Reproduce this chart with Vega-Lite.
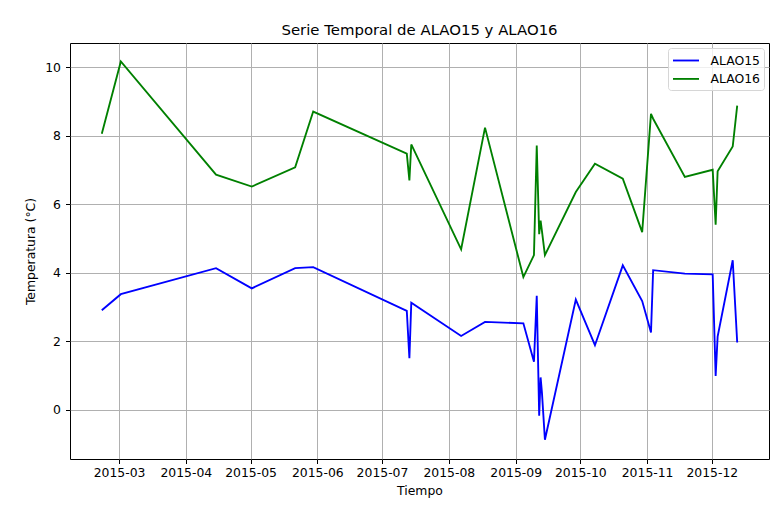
{
  "$schema": "https://vega.github.io/schema/vega-lite/v6.json",
  "autosize": {"type": "none"},
  "padding": {"left": 70, "top": 43, "right": 5, "bottom": 54},
  "width": 699,
  "height": 416,
  "background": "white",
  "title": {
    "text": "Serie Temporal de ALAO15 y ALAO16",
    "font": "DejaVu Sans",
    "fontSize": 14.9,
    "fontWeight": "normal",
    "color": "#000000",
    "anchor": "middle",
    "baseline": "alphabetic",
    "offset": 7,
    "dy": 13.7
  },
  "config": {
    "font": "DejaVu Sans",
    "view": {"stroke": "#000000", "strokeWidth": 1},
    "axis": {
      "domain": false,
      "grid": true,
      "gridColor": "#b0b0b0",
      "gridWidth": 1,
      "gridOpacity": 1,
      "ticks": true,
      "tickColor": "#000000",
      "tickWidth": 1,
      "tickSize": 4.5,
      "labelFont": "DejaVu Sans",
      "labelFontSize": 12.4,
      "labelColor": "#000000",
      "titleFont": "DejaVu Sans",
      "titleFontSize": 12.4,
      "titleFontWeight": "normal",
      "titleColor": "#000000"
    },
    "legend": {
      "labelFont": "DejaVu Sans",
      "labelFontSize": 12.4,
      "labelColor": "#000000"
    }
  },
  "data": {
    "values": [
      {"t": "2015-02-21T00:00", "serie": "ALAO15", "v": 2.91},
      {"t": "2015-03-01T20:00", "serie": "ALAO15", "v": 3.38},
      {"t": "2015-04-15T00:00", "serie": "ALAO15", "v": 4.14},
      {"t": "2015-05-01T14:00", "serie": "ALAO15", "v": 3.55},
      {"t": "2015-05-21T17:00", "serie": "ALAO15", "v": 4.14},
      {"t": "2015-05-30T02:00", "serie": "ALAO15", "v": 4.17},
      {"t": "2015-07-12T12:00", "serie": "ALAO15", "v": 2.89},
      {"t": "2015-07-13T17:00", "serie": "ALAO15", "v": 1.51},
      {"t": "2015-07-14T14:00", "serie": "ALAO15", "v": 3.13},
      {"t": "2015-08-06T17:00", "serie": "ALAO15", "v": 2.16},
      {"t": "2015-08-17T19:00", "serie": "ALAO15", "v": 2.57},
      {"t": "2015-09-04T14:00", "serie": "ALAO15", "v": 2.53},
      {"t": "2015-09-09T12:00", "serie": "ALAO15", "v": 1.41},
      {"t": "2015-09-10T19:00", "serie": "ALAO15", "v": 3.33},
      {"t": "2015-09-11T22:00", "serie": "ALAO15", "v": -0.17},
      {"t": "2015-09-12T14:00", "serie": "ALAO15", "v": 0.95},
      {"t": "2015-09-13T05:00", "serie": "ALAO15", "v": 0.5},
      {"t": "2015-09-14T14:00", "serie": "ALAO15", "v": -0.87},
      {"t": "2015-09-28T22:00", "serie": "ALAO15", "v": 3.22},
      {"t": "2015-10-07T19:00", "serie": "ALAO15", "v": 1.89},
      {"t": "2015-10-20T17:00", "serie": "ALAO15", "v": 4.22},
      {"t": "2015-10-29T17:00", "serie": "ALAO15", "v": 3.18},
      {"t": "2015-11-02T19:00", "serie": "ALAO15", "v": 2.26},
      {"t": "2015-11-03T19:00", "serie": "ALAO15", "v": 4.08},
      {"t": "2015-11-18T12:00", "serie": "ALAO15", "v": 3.98},
      {"t": "2015-12-01T10:00", "serie": "ALAO15", "v": 3.96},
      {"t": "2015-12-02T19:00", "serie": "ALAO15", "v": 0.99},
      {"t": "2015-12-03T17:00", "serie": "ALAO15", "v": 2.14},
      {"t": "2015-12-10T17:00", "serie": "ALAO15", "v": 4.37},
      {"t": "2015-12-12T19:00", "serie": "ALAO15", "v": 1.97},
      {"t": "2015-02-21T00:00", "serie": "ALAO16", "v": 8.06},
      {"t": "2015-03-01T20:00", "serie": "ALAO16", "v": 10.17},
      {"t": "2015-04-15T00:00", "serie": "ALAO16", "v": 6.87},
      {"t": "2015-05-01T14:00", "serie": "ALAO16", "v": 6.52},
      {"t": "2015-05-21T17:00", "serie": "ALAO16", "v": 7.08},
      {"t": "2015-05-30T02:00", "serie": "ALAO16", "v": 8.71},
      {"t": "2015-07-12T12:00", "serie": "ALAO16", "v": 7.48},
      {"t": "2015-07-13T17:00", "serie": "ALAO16", "v": 6.7},
      {"t": "2015-07-14T14:00", "serie": "ALAO16", "v": 7.75},
      {"t": "2015-08-06T17:00", "serie": "ALAO16", "v": 4.69},
      {"t": "2015-08-17T19:00", "serie": "ALAO16", "v": 8.24},
      {"t": "2015-09-04T14:00", "serie": "ALAO16", "v": 3.88},
      {"t": "2015-09-09T12:00", "serie": "ALAO16", "v": 4.52},
      {"t": "2015-09-10T19:00", "serie": "ALAO16", "v": 7.72},
      {"t": "2015-09-11T22:00", "serie": "ALAO16", "v": 5.13},
      {"t": "2015-09-12T14:00", "serie": "ALAO16", "v": 5.53},
      {"t": "2015-09-13T05:00", "serie": "ALAO16", "v": 5.22},
      {"t": "2015-09-14T14:00", "serie": "ALAO16", "v": 4.52},
      {"t": "2015-09-28T22:00", "serie": "ALAO16", "v": 6.36},
      {"t": "2015-10-07T19:00", "serie": "ALAO16", "v": 7.19},
      {"t": "2015-10-20T17:00", "serie": "ALAO16", "v": 6.75},
      {"t": "2015-10-29T17:00", "serie": "ALAO16", "v": 5.19},
      {"t": "2015-11-02T19:00", "serie": "ALAO16", "v": 8.64},
      {"t": "2015-11-03T19:00", "serie": "ALAO16", "v": 8.5},
      {"t": "2015-11-18T12:00", "serie": "ALAO16", "v": 6.8},
      {"t": "2015-12-01T10:00", "serie": "ALAO16", "v": 7.01},
      {"t": "2015-12-02T19:00", "serie": "ALAO16", "v": 5.41},
      {"t": "2015-12-03T17:00", "serie": "ALAO16", "v": 6.97},
      {"t": "2015-12-10T17:00", "serie": "ALAO16", "v": 7.69},
      {"t": "2015-12-12T19:00", "serie": "ALAO16", "v": 8.88}
    ]
  },
  "mark": {"type": "line", "strokeWidth": 1.86, "clip": true},
  "encoding": {
    "x": {
      "field": "t",
      "type": "temporal",
      "scale": {
        "domain": [
          {"year": 2015, "month": 2, "date": 6, "hours": 6},
          {"year": 2015, "month": 12, "date": 27, "hours": 13}
        ],
        "nice": false
      },
      "axis": {
        "title": "Tiempo",
        "format": "%Y-%m",
        "labelAngle": 0,
        "labelPadding": 3,
        "titlePadding": 6,
        "values": [
          {"year": 2015, "month": 3, "date": 1},
          {"year": 2015, "month": 4, "date": 1},
          {"year": 2015, "month": 5, "date": 1},
          {"year": 2015, "month": 6, "date": 1},
          {"year": 2015, "month": 7, "date": 1},
          {"year": 2015, "month": 8, "date": 1},
          {"year": 2015, "month": 9, "date": 1},
          {"year": 2015, "month": 10, "date": 1},
          {"year": 2015, "month": 11, "date": 1},
          {"year": 2015, "month": 12, "date": 1}
        ]
      }
    },
    "y": {
      "field": "v",
      "type": "quantitative",
      "scale": {"domain": [-1.43, 10.71], "nice": false, "zero": false},
      "axis": {
        "title": "Temperatura (°C)",
        "values": [0, 2, 4, 6, 8, 10],
        "labelPadding": 5,
        "titlePadding": 7
      }
    },
    "color": {
      "field": "serie",
      "type": "nominal",
      "scale": {"domain": ["ALAO15", "ALAO16"], "range": ["#0000ff", "#008000"]},
      "legend": {
        "title": null,
        "orient": "none",
        "legendX": 598,
        "legendY": 5,
        "padding": 4,
        "symbolType": "M-1,0H2.47",
        "symbolSize": 225,
        "symbolStrokeWidth": 1.86,
        "symbolFillColor": "transparent",
        "labelOffset": 21.5,
        "rowPadding": 3.4,
        "strokeColor": "#d6d6d6",
        "fillColor": "rgba(255,255,255,0.8)",
        "cornerRadius": 3
      }
    }
  }
}
